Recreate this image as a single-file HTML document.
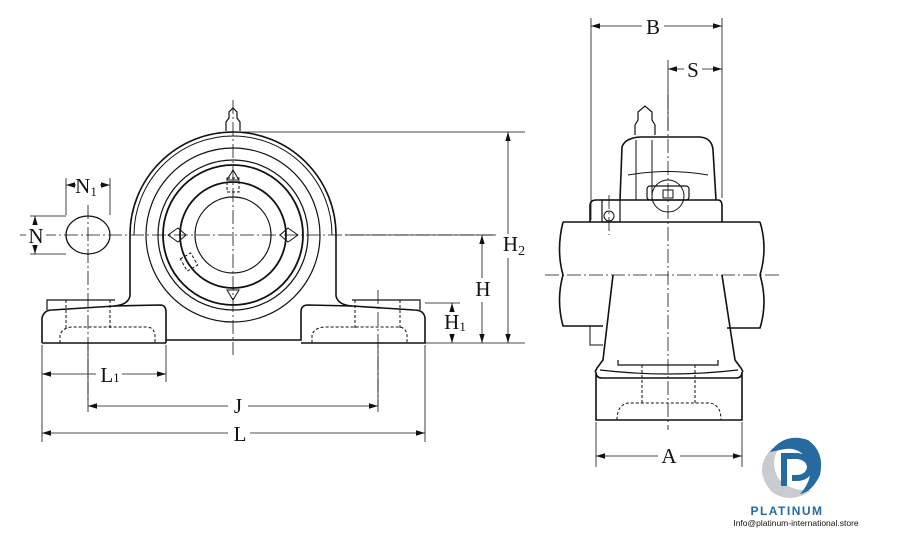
<!DOCTYPE html>
<html><head><meta charset="utf-8"><style>
html,body{margin:0;padding:0;background:#fff}
svg{display:block}
text{font-family:"Liberation Serif",serif;fill:#111}
text.sans{font-family:"Liberation Sans",sans-serif}
.d path{marker-start:url(#a);marker-end:url(#a)}
</style></head><body>
<svg width="918" height="533" viewBox="0 0 918 533" xmlns="http://www.w3.org/2000/svg">
<defs>
<marker id="a" viewBox="0 0 10 10" refX="10" refY="5" markerWidth="9" markerHeight="9" markerUnits="userSpaceOnUse" orient="auto-start-reverse"><path d="M0,2 L10,5 L0,8z" fill="#111"/></marker>
</defs>
<g fill="none" stroke="#111" stroke-width="1.6">
<path d="M130,296 L130,235 A103,103 0 0 1 336,235 L336,296 Q338,305 352,306"/>
<path d="M130,296 Q128,305 114,306"/>
<path d="M134,235 A99,99 0 0 1 332,235" stroke-width="1"/>
<circle cx="233" cy="235" r="87" stroke-width="1.2"/>
<circle cx="233" cy="235" r="75" stroke-width="1.2"/>
<circle cx="233" cy="235" r="70" stroke-width="1.8"/>
<circle cx="233" cy="235" r="53" stroke-width="1.8"/>
<circle cx="233" cy="235" r="38" stroke-width="1.2"/>
<path d="M168,235 L178,228 L186,235 L178,242z M298,235 L288,228 L280,235 L288,242z M233,170 L227,180 L239,180z M233,300 L227,290 L239,290z" stroke-width="1"/>
<rect x="227" y="178" width="12" height="14" stroke-width="1" stroke-dasharray="3 2"/>
<rect x="183" y="255" width="12" height="14" stroke-width="1" stroke-dasharray="3 2" transform="rotate(-30 189 262)"/>
<path d="M226,131 L226,122 L229,118 L229,112 L233,108 L237,112 L237,118 L240,122 L240,131" stroke-width="1.2"/>
<path d="M47,310 L47,300 L115,300 M352,300 L420,300 L420,310" stroke-width="1.2"/>
<path d="M42,343 L42,318 Q44,310 52,310 L115,306 L160,305 Q166,305 166,312 L166,340 L301,340 L301,312 Q301,305 308,305 L352,306 L414,310 Q424,310 425,318 L425,343 L301,343 M166,343 L42,343"/>
<path d="M166,340 L166,343" />
<path d="M60,343 L60,335 Q62,328 72,327 L148,327 Q154,328 155,335 L155,343 M312,343 L312,335 Q314,328 324,327 L400,327 Q406,328 407,335 L407,343 M66,300 L66,328 M110,300 L110,328 M355,300 L355,328 M400,300 L400,328" stroke-width="1" stroke-dasharray="3 2"/>
<ellipse cx="88" cy="235" rx="22" ry="19" stroke-width="1.3"/>
<path d="M563,222 L760,222 M563,222 Q556,250 563,275 M760,222 Q768,248 760,275 M563,275 Q556,300 563,326 L603,326 M760,275 Q768,302 760,328 L727,328"/>
<path d="M590,222 L590,206 Q590,200 596,200 L718,200 Q722,200 722,206 L722,222"/>
<path d="M620,200 L622,147 Q625,138 640,137 L700,137 Q712,138 713,150 L716,200"/>
<path d="M628,175 Q668,168 708,175" stroke-width="1"/>
<circle cx="668" cy="196" r="16" stroke-width="1"/>
<rect x="647" y="186" width="42" height="14" rx="3" stroke-width="1.2"/>
<rect x="663" y="190" width="10" height="8" stroke-width="1"/>
<rect x="602" y="200" width="18" height="22" stroke-width="1.2"/>
<circle cx="609" cy="216" r="5" stroke-width="1"/>
<path d="M635,135 L635,125 L638,120 L638,112 L645,106 L652,112 L652,120 L655,125 L655,135" stroke-width="1.2"/>
<path d="M636,140 L636,200 M652,140 L652,200" stroke-width="1"/>
<path d="M613,275 L603,360 L597,368 L595,372 M722,275 L735,360 L741,368 L743,372" />
<path d="M590,326 L590,345 L603,345" stroke-width="1"/>
<path d="M618,360 L618,365 L718,365 L718,360 M600,370 Q668,378 738,370" stroke-width="1.2"/>
<path d="M596,372 Q596,378 602,378 L736,378 Q742,378 742,372 L742,420 L596,420z"/>
<path d="M617,420 Q617,405 628,403 L710,403 Q721,405 721,420 M642,365 L642,403 M695,365 L695,403" stroke-width="1" stroke-dasharray="3 2"/>
</g>
<g stroke="#111" stroke-width="0.8" fill="none" stroke-dasharray="14 3 2 3">
<path d="M20,235 L522,235 M233,100 L233,355 M88,205 L88,400 M378,290 L378,405"/>
<path d="M545,275 L780,275 M668,95 L668,430 M609,195 L609,235"/>
</g>
<g stroke="#111" stroke-width="0.8" fill="none">
<path d="M240,132 L525,132 M345,235 L493,235 M425,303 L460,303 M425,343 L525,343"/>
<path d="M42,345 L42,442 M166,345 L166,382 M425,345 L425,442 M378,345 L378,412 M88,345 L88,412"/>
<path d="M66,178 L66,215 M110,178 L110,215 M30,216 L66,216 M30,254 L66,254"/>
<path d="M591,18 L591,220 M722,18 L722,198 M668,60 L668,130 M596,422 L596,467 M742,422 L742,467"/>
</g>
<g class="d" stroke="#111" stroke-width="0.8" fill="none">
<path d="M508,132 L508,343"/>
<path d="M482,235 L482,343"/>
<path d="M452,303 L452,343"/>
<path d="M42,374 L166,374"/>
<path d="M88,406 L378,406"/>
<path d="M42,433 L425,433"/>
<path d="M66,185 L110,185"/>
<path d="M35,216 L35,254"/>
<path d="M591,26 L722,26"/>
<path d="M668,69 L722,69"/>
<path d="M596,456 L742,456"/>
</g>
<g font-size="21" text-anchor="middle">
<rect x="76" y="175" width="24" height="20" fill="#fff"/>
<text x="86" y="193">N<tspan font-size="13" dy="3">1</tspan></text>
<rect x="26" y="225" width="20" height="20" fill="#fff"/>
<text x="36" y="243">N</text>
<rect x="498" y="234" width="26" height="24" fill="#fff"/>
<text x="514" y="251">H<tspan font-size="14" dy="4">2</tspan></text>
<rect x="472" y="278" width="22" height="24" fill="#fff"/>
<text x="483" y="296">H</text>
<rect x="442" y="312" width="28" height="22" fill="#fff"/>
<text x="455" y="329">H<tspan font-size="13" dy="2">1</tspan></text>
<rect x="96" y="362" width="26" height="24" fill="#fff"/>
<text x="110" y="382">L<tspan font-size="13">1</tspan></text>
<rect x="228" y="394" width="20" height="24" fill="#fff"/>
<text x="238" y="413">J</text>
<rect x="228" y="421" width="22" height="24" fill="#fff"/>
<text x="240" y="441">L</text>
<rect x="642" y="14" width="22" height="24" fill="#fff"/>
<text x="653" y="34">B</text>
<rect x="684" y="58" width="18" height="22" fill="#fff"/>
<text x="693" y="77">S</text>
<rect x="658" y="444" width="22" height="24" fill="#fff"/>
<text x="669" y="463">A</text>
</g>
<g>
<path d="M772,448 Q752,470 772,492 Q790,505 812,490 Q790,492 778,478 Q770,462 778,450z" fill="#c8ccd0"/>
<path d="M770,452 Q785,432 808,440 Q825,452 820,475 Q812,492 800,494 Q815,478 808,460 Q798,445 780,450z" fill="#276aa0"/>
<path d="M784,486 L784,456 L798,456 Q810,458 810,468 Q808,478 796,478 L792,478" fill="none" stroke="#276aa0" stroke-width="6"/>
<text class="sans" x="787" y="515" font-size="12" font-weight="bold" text-anchor="middle" style="fill:#276aa0" letter-spacing="1.5">PLATINUM</text>
<text class="sans" x="796" y="526" font-size="8.5" text-anchor="middle">Info@platinum-international.store</text>
</g>
</svg>
</body></html>
